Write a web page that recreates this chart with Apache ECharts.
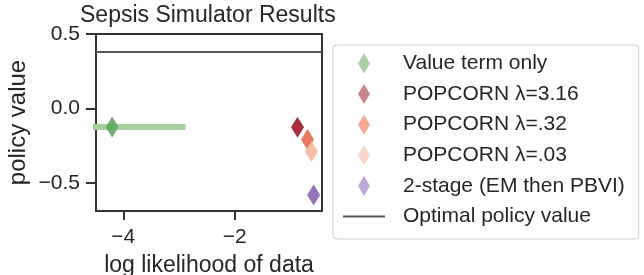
<!DOCTYPE html>
<html>
<head>
<meta charset="utf-8">
<script src="https://cdn.jsdelivr.net/npm/echarts@6/dist/echarts.min.js"></script>
<style>
  html, body { margin: 0; padding: 0; background: #fff; }
  #main { width: 644px; height: 275px; }
</style>
</head>
<body>
<div id="main"></div>
<script>
// 数据
var names = ['Value term only', 'POPCORN λ=3.16', 'POPCORN λ=.32', 'POPCORN λ=.03', '2-stage (EM then PBVI)'];
var logLik = [-4.2, -0.87, -0.69, -0.62, -0.58];
var policyValue = [-0.125, -0.127, -0.21, -0.29, -0.583];
var errLo = [-5.52];
var errHi = [-2.88];
var optimalValue = 0.378;
var optimalName = 'Optimal policy value';
var xTicks = [-4, -2];
var yTicks = [-0.5, 0, 0.5];

var pointColors = ['#60a660', '#9b1b2c', '#e66b50', '#f2b89c', '#8a64b4'];
var legendColors = ['#9fcb98', '#c07a80', '#f0a088', '#f5d3c3', '#b49fd0'];

var font = '"Liberation Sans", Arial, Helvetica, sans-serif';
var ink = '#262626';

function minus(v, digits) {
  var s = digits ? Math.abs(v).toFixed(digits) : String(Math.abs(v));
  return (v < 0 ? '\u2212' : '') + s;
}

// legend 图标：55x20 的区域，菱形居中在 21
var diamondIcon = 'path://M0,0L0.01,0M21,0L27,10L21,20L15,10ZM55,20L55.01,20';
var lineIcon = 'path://M0,0L0.01,0M0,9L42,9L42,11L0,11ZM55,20L55.01,20';

var series = [];
// 误差线
series.push({
  name: 'err',
  type: 'line',
  data: [[errLo[0], policyValue[0]], [errHi[0], policyValue[0]]],
  symbol: 'none',
  silent: true,
  clip: true,
  lineStyle: { color: '#a6d19f', width: 6, cap: 'butt' },
  z: 2
});
names.forEach(function (n, i) {
  series.push({
    name: n,
    type: 'scatter',
    data: [[logLik[i], policyValue[i]]],
    symbol: 'diamond',
    symbolSize: [13, 21],
    itemStyle: { color: pointColors[i], opacity: 0.9 },
    z: 5
  });
});
series.push({
  name: optimalName,
  type: 'line',
  data: [],
  symbol: 'none',
  lineStyle: { color: '#555', width: 2 },
  markLine: {
    silent: true,
    symbol: 'none',
    label: { show: false },
    lineStyle: { color: '#555', width: 2, type: 'solid' },
    data: [{ yAxis: optimalValue }]
  }
});

var legendData = names.map(function (n, i) {
  return { name: n, icon: diamondIcon, itemStyle: { color: legendColors[i], borderWidth: 0 } };
});
legendData.push({ name: optimalName, icon: lineIcon, itemStyle: { color: '#555', borderWidth: 0 } });

var chart = echarts.init(document.getElementById('main'));
chart.setOption({
  animation: false,
  textStyle: { fontFamily: font, color: ink },
  title: {
    text: 'Sepsis Simulator Results',
    left: 80,
    top: 4,
    padding: 0,
    textStyle: { fontFamily: font, fontSize: 23, fontWeight: 'normal', color: ink }
  },
  grid: {
    left: 96, top: 34, right: 322, bottom: 64,
    outerBoundsMode: 'none',
    containLabel: false,
    show: true, borderColor: '#333', borderWidth: 2, backgroundColor: '#fff'
  },
  legend: {
    orient: 'vertical',
    left: 333,
    top: 45,
    padding: [8, 14, 12, 10],
    itemWidth: 55,
    itemHeight: 20,
    itemGap: 9.6,
    borderColor: '#d0d0d0',
    borderWidth: 1,
    borderRadius: 4,
    backgroundColor: '#fff',
    selectedMode: false,
    textStyle: { fontFamily: font, fontSize: 21, color: ink, lineHeight: 20, padding: [0, 0, 0, 0] },
    data: legendData
  },
  xAxis: {
    type: 'value',
    min: -4.49, max: -0.43,
    name: 'log likelihood of data',
    nameLocation: 'middle',
    nameGap: 43,
    nameTextStyle: { fontFamily: font, fontSize: 23, color: ink },
    splitLine: { show: false },
    axisLine: { show: true, onZero: false, lineStyle: { color: '#333', width: 2 } },
    axisTick: { show: true, length: 9, lineStyle: { color: '#333', width: 2 }, customValues: xTicks },
    axisLabel: {
      fontFamily: font, fontSize: 21, color: ink, margin: 16,
      customValues: xTicks,
      formatter: function (v) { return minus(v); }
    }
  },
  yAxis: {
    type: 'value',
    min: -0.69, max: 0.5,
    name: 'policy value',
    nameLocation: 'middle',
    nameGap: 66,
    nameTextStyle: { fontFamily: font, fontSize: 24, color: ink },
    splitLine: { show: false },
    axisLine: { show: true, onZero: false, lineStyle: { color: '#333', width: 2 } },
    axisTick: { show: true, length: 10, lineStyle: { color: '#333', width: 2 }, customValues: yTicks },
    axisLabel: {
      fontFamily: font, fontSize: 21, color: ink, margin: 16,
      customValues: yTicks,
      formatter: function (v) { return minus(v, 1); }
    }
  },
  series: series
});
</script>
</body>
</html>
